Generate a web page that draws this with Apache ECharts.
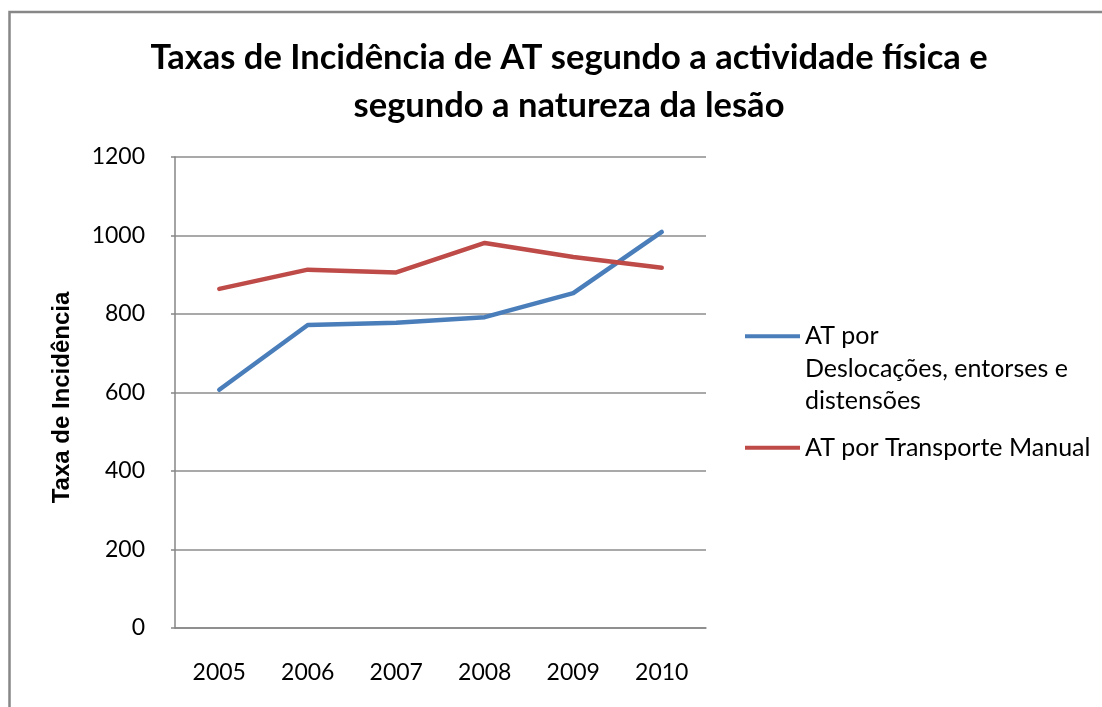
<!DOCTYPE html>
<html>
<head>
<meta charset="utf-8">
<script src="https://cdn.jsdelivr.net/npm/echarts@6/dist/echarts.min.js"></script>
<style>
  html, body { margin: 0; padding: 0; background: #ffffff; }
  #chart { width: 1102px; height: 707px; }
</style>
</head>
<body>
<div id="chart"></div>
<script>
// Incidence rates of work accidents (AT) by year
const years = ['2005', '2006', '2007', '2008', '2009', '2010'];
const deslocacoes = [607, 772, 778, 792, 853, 1009];
const transporteManual = [864, 913, 906, 981, 945, 918];
const yTicks = { min: 0, max: 1200, interval: 200 };

const seriesNames = ['AT por Deslocações, entorses e distensões', 'AT por Transporte Manual'];
const colors = ['#4a7ebb', '#be4b48'];

const bodyFont = 'Lato';
const chart = echarts.init(document.getElementById('chart'));

chart.setOption({
  backgroundColor: '#ffffff',
  animation: false,
  title: {
    text: 'Taxas de Incidência de AT segundo a actividade física e\nsegundo a natureza da lesão',
    left: 564,
    top: 29,
    textAlign: 'center',
    textStyle: {
      fontFamily: bodyFont,
      fontWeight: 'bold',
      fontSize: 34.5,
      lineHeight: 48,
      color: '#000000'
    }
  },
  graphic: [{
    type: 'rect',
    shape: { x: 9.5, y: 12, width: 1200, height: 800 },
    style: { fill: 'none', stroke: '#878787', lineWidth: 2.5 },
    silent: true
  }],
  grid: { left: 175, right: 396, top: 157, bottom: 79 },
  legend: {
    orient: 'vertical',
    left: 745,
    top: 255,
    padding: 0,
    itemGap: 14,
    itemWidth: 55,
    itemHeight: 4,
    icon: 'rect',
    selectedMode: false,
    data: seriesNames,
    formatter: function (name) {
      if (name === seriesNames[0]) {
        return '\n\nAT por\nDeslocações, entorses e\ndistensões';
      }
      return name;
    },
    textStyle: { fontFamily: bodyFont, fontSize: 25, lineHeight: 32.5, color: '#000000' }
  },
  xAxis: {
    type: 'category',
    data: years,
    boundaryGap: true,
    axisLine: { lineStyle: { color: '#868686', width: 1.5 } },
    axisTick: { show: false },
    axisLabel: { margin: 33, fontFamily: bodyFont, fontSize: 23, color: '#000000' }
  },
  yAxis: {
    type: 'value',
    min: yTicks.min,
    max: yTicks.max,
    interval: yTicks.interval,
    name: 'Taxa de Incidência',
    nameLocation: 'middle',
    nameRotate: 90,
    nameGap: 101,
    nameTextStyle: {
      fontFamily: 'Liberation Sans',
      fontWeight: 'bold',
      fontSize: 24,
      color: '#000000',
      padding: [0, 10, 0, 0]
    },
    axisLine: { show: true, lineStyle: { color: '#868686', width: 1.5 } },
    axisTick: { show: true, length: 4, lineStyle: { color: '#868686', width: 1.5 } },
    axisLabel: {
      margin: 30,
      fontFamily: bodyFont,
      fontSize: 23,
      color: '#000000',
      formatter: function (v) { return String(v); }
    },
    splitLine: { lineStyle: { color: '#8c8c8c', width: 1.5 } }
  },
  series: [
    {
      name: seriesNames[0],
      type: 'line',
      data: deslocacoes,
      showSymbol: false,
      lineStyle: { color: colors[0], width: 4.5, cap: 'round', join: 'round' },
      itemStyle: { color: colors[0] }
    },
    {
      name: seriesNames[1],
      type: 'line',
      data: transporteManual,
      showSymbol: false,
      lineStyle: { color: colors[1], width: 4.5, cap: 'round', join: 'round' },
      itemStyle: { color: colors[1] }
    }
  ]
});
</script>
</body>
</html>
